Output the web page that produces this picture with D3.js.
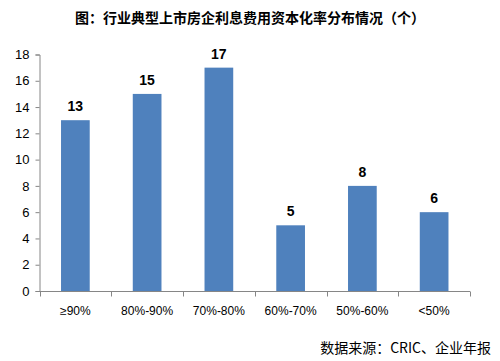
<!DOCTYPE html>
<html><head><meta charset="utf-8">
<script src="https://cdn.jsdelivr.net/npm/d3@7"></script>
<style>body{margin:0;background:#fff}svg{display:block}</style>
</head><body>
<script>
const categories = ["≥90%", "80%-90%", "70%-80%", "60%-70%", "50%-60%", "<50%"];
const values = [13, 15, 17, 5, 8, 6];
const yTicks = [0, 2, 4, 6, 8, 10, 12, 14, 16, 18];
const title = "图：行业典型上市房企利息费用资本化率分布情况（个）";
const source = "数据来源：CRIC、企业年报";

const W = 500, H = 361;
const m = {left: 39.5, right: 30, top: 54.5, bottom: 70};
const svg = d3.select("body").append("svg").attr("width", W).attr("height", H);
const x = d3.scaleBand().domain(categories).range([m.left, W - m.right]).paddingInner(0.6).paddingOuter(0.3);
const y = d3.scaleLinear().domain([0, 18]).range([H - m.bottom, m.top]);
const axisColor = "#868686";
const cjk = "'Noto Sans CJK SC', sans-serif";

svg.append("text").attr("x", 250).attr("y", 23).attr("text-anchor", "middle")
  .attr("font-family", cjk).attr("font-weight", "bold").attr("font-size", 14).attr("fill", "#000").text(title);

// bars
svg.selectAll("rect.bar").data(values).join("rect").attr("class", "bar")
  .attr("x", (d, i) => x(categories[i])).attr("width", x.bandwidth())
  .attr("y", d => y(d)).attr("height", d => y(0) - y(d)).attr("fill", "#4F81BD");

svg.selectAll("text.val").data(values).join("text").attr("class", "val")
  .attr("x", (d, i) => x(categories[i]) + x.bandwidth() / 2).attr("y", d => y(d) - 9)
  .attr("text-anchor", "middle").attr("font-family", "'Liberation Sans', Arial, sans-serif")
  .attr("font-weight", "bold").attr("font-size", 14).text(d => d);

// y axis
const ya = svg.append("g").attr("transform", `translate(${m.left},0)`)
  .call(d3.axisLeft(y).tickValues(yTicks).tickSize(4).tickPadding(6));
ya.select(".domain").attr("stroke", axisColor);
ya.selectAll(".tick line").attr("stroke", axisColor);
ya.selectAll(".tick text").attr("font-family", "'Liberation Sans', Arial, sans-serif").attr("font-size", 13).attr("fill", "#000");

// x axis
const y0 = Math.round(y(0)) + 0.5;
const xa = svg.append("g").attr("transform", `translate(0,${y0})`);
xa.append("line").attr("x1", m.left).attr("x2", W - m.right).attr("stroke", axisColor);
const step = x.step();
const bounds = d3.range(categories.length + 1).map(i => m.left + i * (W - m.right - m.left) / categories.length);
xa.selectAll("line.tk").data(bounds).join("line").attr("class", "tk")
  .attr("x1", d => Math.round(d) + 0.5).attr("x2", d => Math.round(d) + 0.5).attr("y1", 0).attr("y2", 5).attr("stroke", axisColor);
xa.selectAll("text.cat").data(categories).join("text").attr("class", "cat")
  .attr("x", d => x(d) + x.bandwidth() / 2).attr("y", 23).attr("text-anchor", "middle")
  .attr("font-family", "'Liberation Sans', Arial, sans-serif").attr("font-size", 12).attr("fill", "#000").text(d => d);

svg.append("text").attr("x", 491).attr("y", 353).attr("text-anchor", "end")
  .attr("font-family", cjk).attr("font-size", 14).attr("fill", "#000").text(source);
</script>
</body></html>
